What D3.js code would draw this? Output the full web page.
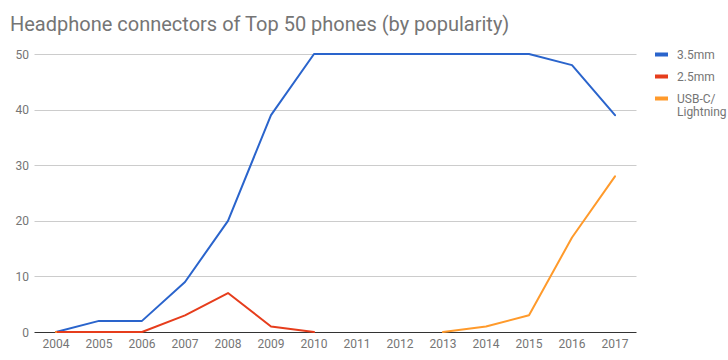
<!DOCTYPE html>
<html><head><meta charset="utf-8">
<script src="https://cdn.jsdelivr.net/npm/d3@7"></script>
<style>body{margin:0;background:#fff;} text{font-family:Roboto,Arial,sans-serif;}</style>
</head><body><svg id="c" width="728" height="360"></svg>
<script>
const years = ["2004","2005","2006","2007","2008","2009","2010","2011","2012","2013","2014","2015","2016","2017"];
const s35 = [0,2,2,9,20,39,50,50,50,50,50,50,48,39];
const s25 = [0,0,0,3,7,1,0,null,null,null,null,null,null,null];
const sUsb = [0,null,null,null,null,null,null,null,null,0,1,3,17,28];
const yTicks = [0,10,20,30,40,50];
const seriesNames = ["3.5mm","2.5mm","USB-C/\nLightning"];
const colors = ["#2a64cc","#e63d1c","#ff9a2b"];
const seriesData = [s35, s25, sUsb];

const svg = d3.select("#c");
const L = 34.5, R = 636.5, T = 54, B = 332;
const x = d3.scalePoint().domain(years).range([L, R]).padding(0.5);
const y = d3.scaleLinear().domain([0,50]).range([B, T]);

svg.append("text").attr("x",10).attr("y",31).attr("font-size",20).attr("fill","#757575")
  .text("Headphone connectors of Top 50 phones (by popularity)");

svg.append("g").selectAll("line").data(yTicks.filter(d=>d>0)).join("line")
  .attr("x1",L).attr("x2",R).attr("y1",d=>Math.round(y(d))+0.5).attr("y2",d=>Math.round(y(d))+0.5)
  .attr("stroke","#cccccc").attr("stroke-width",1);

svg.append("g").selectAll("text").data(yTicks).join("text")
  .attr("x",29).attr("y",d=>y(d)+4.5).attr("text-anchor","end").attr("font-size",12).attr("fill","#757575")
  .text(d=>d);

svg.append("g").selectAll("text").data(years).join("text")
  .attr("x",d=>x(d)).attr("y",348).attr("text-anchor","middle").attr("font-size",12).attr("fill","#757575")
  .text(d=>d);

svg.append("line").attr("x1",L).attr("x2",R).attr("y1",Math.round(y(0))+0.5).attr("y2",Math.round(y(0))+0.5)
  .attr("stroke","#333333").attr("stroke-width",1);

const line = d3.line().defined(d=>d!=null).x((d,i)=>x(years[i])).y(d=>y(d));
seriesData.forEach((arr,k)=>{
  svg.append("path").attr("d",line(arr)).attr("fill","none").attr("stroke",colors[k])
    .attr("stroke-width",2).attr("stroke-linejoin","round").attr("stroke-linecap","round");
});

const lg = svg.append("g");
const ly = [55, 77, 99];
seriesNames.forEach((n,k)=>{
  lg.append("rect").attr("x",655).attr("y",ly[k]-2.5).attr("width",13).attr("height",4).attr("fill",colors[k]);
  n.split("\n").forEach((t,j)=>{
    lg.append("text").attr("x",677).attr("y",ly[k]+4+j*13).attr("font-size",12).attr("fill","#757575").text(t);
  });
});
</script></body></html>
